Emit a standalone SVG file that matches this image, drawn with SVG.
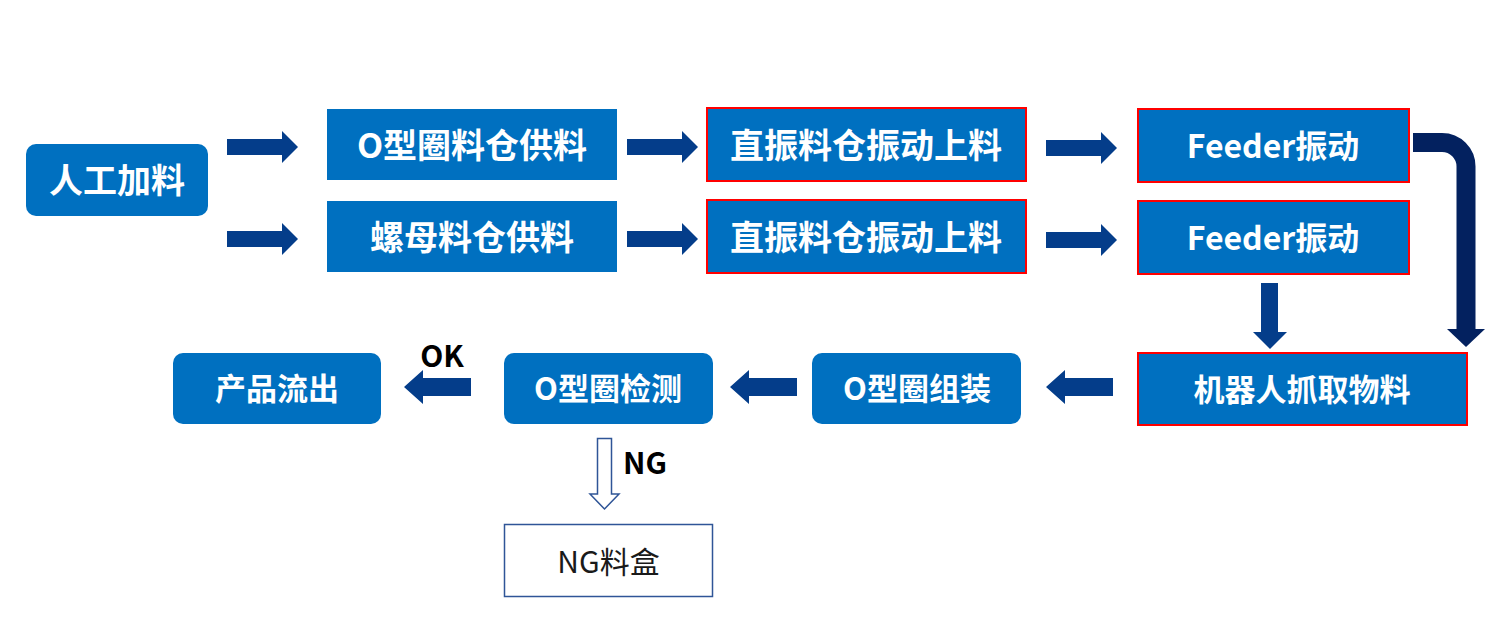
<svg xmlns="http://www.w3.org/2000/svg" xmlns:xlink="http://www.w3.org/1999/xlink" width="1500" height="632" viewBox="0 0 1500 632">
  <style>
    .box { fill: #0070C0; }
    .red { stroke: #FF0000; stroke-width: 2; }
    .t { font-family: "Noto Sans CJK SC", "Liberation Sans", sans-serif; font-weight: 700; fill: #FFFFFF; text-anchor: middle; dominant-baseline: central; }
    .t34 { font-size: 34px; }
    .t31 { font-size: 31px; }
    .lbl { font-family: "Noto Sans CJK SC", "Liberation Sans", sans-serif; font-weight: 700; font-size: 30px; fill: #000000; }
    .arr { fill: #043D8A; }
  </style>
  <defs>
    <path id="ar" d="M0,-8 H55 V-16 L71,0 L55,16 V8 H0 Z"/>
    <path id="al" d="M0,0 L19,-17 V-9 H67 V9 H19 V17 Z"/>
  </defs>
  <rect width="1500" height="632" fill="#FFFFFF"/>

  <g id="connectors">
    <use xlink:href="#ar" class="arr" transform="translate(227,147)"/>
    <use xlink:href="#ar" class="arr" transform="translate(227,239)"/>
    <use xlink:href="#ar" class="arr" transform="translate(627,147)"/>
    <use xlink:href="#ar" class="arr" transform="translate(627,239)"/>
    <use xlink:href="#ar" class="arr" transform="translate(1046,148)"/>
    <use xlink:href="#ar" class="arr" transform="translate(1046,240)"/>
    <path class="arr" d="M1261,283 H1278 V332 H1287 L1270,349 L1253,332 H1261 Z"/>
    <path d="M1413,142.5 H1442 A24,24 0 0 1 1466,166.5 V330" fill="none" stroke="#03215F" stroke-width="19"/>
    <path d="M1447,329 H1485 L1466,347 Z" fill="#03215F"/>
    <use xlink:href="#al" class="arr" transform="translate(1046,387)"/>
    <use xlink:href="#al" class="arr" transform="translate(730,387)"/>
    <use xlink:href="#al" class="arr" transform="translate(404,387)"/>
    <text class="lbl" x="442" y="367" text-anchor="middle">OK</text>
    <path d="M597.5,438.5 H611.5 V494 H619 L604.5,509 L590,494 H597.5 Z" fill="#FFFFFF" stroke="#2F5597" stroke-width="1.5"/>
    <text class="lbl" x="623" y="474">NG</text>
  </g>

  <g id="n-manual">
    <rect class="box" x="26" y="144" width="182" height="72" rx="10"/>
    <text class="t t34" x="117" y="178">人工加料</text>
  </g>
  <g id="n-oring-bin">
    <rect class="box" x="327" y="109" width="290" height="71"/>
    <text class="t t34" x="472" y="143">O型圈料仓供料</text>
  </g>
  <g id="n-nut-bin">
    <rect class="box" x="327" y="201" width="290" height="71"/>
    <text class="t t34" x="472" y="235">螺母料仓供料</text>
  </g>
  <g id="n-linear1">
    <rect class="box red" x="707" y="108" width="319" height="73"/>
    <text class="t t34" x="866" y="143">直振料仓振动上料</text>
  </g>
  <g id="n-linear2">
    <rect class="box red" x="707" y="200" width="319" height="73"/>
    <text class="t t34" x="866" y="235">直振料仓振动上料</text>
  </g>
  <g id="n-feeder1">
    <rect class="box red" x="1138" y="109" width="271" height="73"/>
    <text class="t" font-size="32" x="1273" y="144">Feeder振动</text>
  </g>
  <g id="n-feeder2">
    <rect class="box red" x="1138" y="201" width="271" height="73"/>
    <text class="t" font-size="32" x="1273" y="236">Feeder振动</text>
  </g>
  <g id="n-robot">
    <rect class="box red" x="1138" y="353" width="329" height="72"/>
    <text class="t t31" x="1302" y="387">机器人抓取物料</text>
  </g>
  <g id="n-assemble">
    <rect class="box" x="812" y="353" width="209" height="71" rx="10"/>
    <text class="t t31" x="917" y="386">O型圈组装</text>
  </g>
  <g id="n-inspect">
    <rect class="box" x="504" y="353" width="209" height="71" rx="10"/>
    <text class="t t31" x="608" y="386">O型圈检测</text>
  </g>
  <g id="n-output">
    <rect class="box" x="173" y="353" width="208" height="71" rx="10"/>
    <text class="t t31" x="277" y="386">产品流出</text>
  </g>
  <g id="n-ngbox">
    <rect x="504.5" y="524.5" width="208" height="72" fill="#FFFFFF" stroke="#2F5597" stroke-width="1.5"/>
    <text x="608.5" y="560" font-family="Noto Sans CJK SC, Liberation Sans, sans-serif" font-size="30" fill="#1A1A1A" text-anchor="middle" dominant-baseline="central">NG料盒</text>
  </g>
</svg>
